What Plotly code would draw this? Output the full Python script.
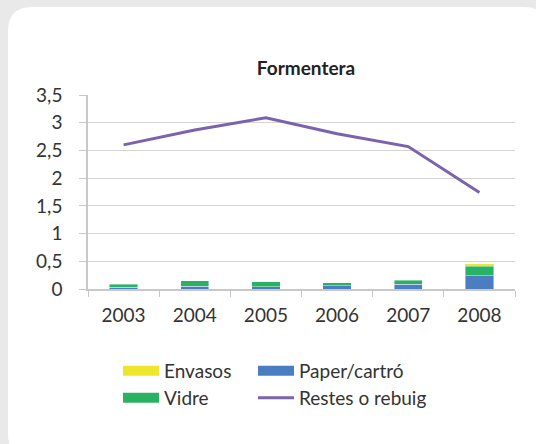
import plotly.graph_objects as go

years = ["2003", "2004", "2005", "2006", "2007", "2008"]
paper = [0.03, 0.05, 0.04, 0.06, 0.09, 0.24]
vidre = [0.06, 0.10, 0.09, 0.05, 0.07, 0.17]
envasos = [0.0, 0.0, 0.0, 0.0, 0.0, 0.05]
restes = [2.60, 2.87, 3.09, 2.80, 2.57, 1.74]
y_ticks = [0, 0.5, 1, 1.5, 2, 2.5, 3, 3.5]

C_ENV = "#efe52c"
C_PAP = "#4a7ec0"
C_VID = "#2ab263"
C_RES = "#7b62ad"

W, H = 536, 444
ML, MR, MT, MB = 88, 21, 95, 155
PW, PH = W - ML - MR, H - MT - MB

def px(x):
    return (x - ML) / PW

def py(y):
    return (H - MB - y) / PH

FS = 19
fig = go.Figure()
edge = dict(width=0.6, color="rgba(255,255,255,0.7)")
fig.add_trace(go.Bar(x=years, y=paper, marker=dict(color=C_PAP, line=edge), showlegend=False, name="Paper/cartró"))
fig.add_trace(go.Bar(x=years, y=vidre, marker=dict(color=C_VID, line=edge), showlegend=False, name="Vidre"))
fig.add_trace(go.Bar(x=years, y=envasos, marker=dict(color=C_ENV, line=dict(width=0)), showlegend=False, name="Envasos"))
fig.add_trace(go.Scatter(x=years, y=restes, mode="lines", line=dict(color=C_RES, width=3), showlegend=False, name="Restes o rebuig"))

# legend entries (one per legend box to control placement)
leg_items = [
    ("Envasos", C_ENV, 10, "legend", 118, 352),
    ("Paper/cartró", C_PAP, 10, "legend2", 253, 352),
    ("Vidre", C_VID, 10, "legend3", 118, 379),
    ("Restes o rebuig", C_RES, 3, "legend4", 253, 379),
]
layout_legends = {}
for name, col, lw, lg, lx, ly in leg_items:
    fig.add_trace(go.Scatter(x=[None], y=[None], mode="lines", name=name,
                             line=dict(color=col, width=lw), legend=lg, showlegend=True))
    layout_legends[lg] = dict(x=px(lx), y=py(ly), xanchor="left", yanchor="top",
                              bgcolor="rgba(0,0,0,0)", font=dict(size=FS, color="#333333"),
                              itemwidth=36)

# rounded white card
x0, x1, y0, y1 = px(8), px(548), py(7), py(458)
rx, ry = 24 / PW, 24 / PH
path = (f"M {x0+rx},{y0} L {x1-rx},{y0} Q {x1},{y0} {x1},{y0-ry} "
        f"L {x1},{y1+ry} Q {x1},{y1} {x1-rx},{y1} "
        f"L {x0+rx},{y1} Q {x0},{y1} {x0},{y1+ry} "
        f"L {x0},{y0-ry} Q {x0},{y0} {x0+rx},{y0} Z")
fig.add_shape(type="path", path=path, xref="paper", yref="paper",
              fillcolor="white", line=dict(width=0), layer="below")

fig.update_layout(
    width=W, height=H,
    margin=dict(l=ML, r=MR, t=MT, b=MB, autoexpand=False),
    paper_bgcolor="#e9e9e9",
    plot_bgcolor="rgba(0,0,0,0)",
    barmode="stack",
    bargap=0.6,
    separators=", ",
    font=dict(family="Lato, Open Sans, sans-serif", color="#333333"),
    title=dict(text="<b>Formentera</b>", x=306 / W, xanchor="center",
               y=1 - 68 / H, yanchor="middle", font=dict(size=FS, color="#222222")),
    xaxis=dict(showgrid=False, showline=True, linecolor="#c8c8c8", linewidth=1.5,
               ticks="outside", ticklen=6, tickcolor="#c8c8c8", tickson="boundaries",
               tickfont=dict(size=FS, color="#333333"), ticklabelstandoff=8),
    yaxis=dict(range=[0, 3.5], tickvals=y_ticks, showgrid=True, gridcolor="#d4d4d4",
               showline=True, linecolor="#c8c8c8", linewidth=1.5, ticks="outside",
               ticklen=7, tickcolor="#c8c8c8", zeroline=False,
               tickfont=dict(size=FS, color="#333333"), ticklabelstandoff=13),
    **layout_legends,
)

fig.write_html("out.html", config={"displayModeBar": False},
               post_script="document.body.style.margin='0';")
